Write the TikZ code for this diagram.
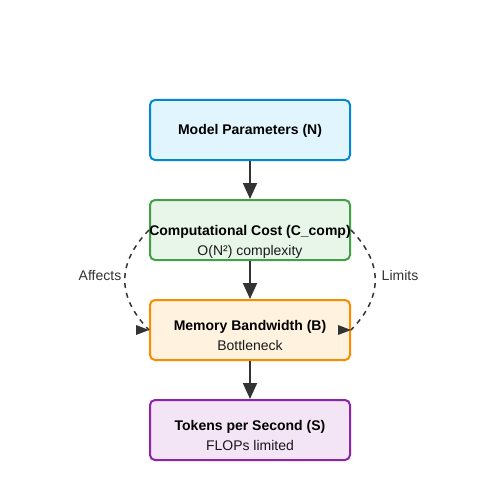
\documentclass[tikz,border=0pt]{standalone}
\usepackage{fontspec}
\setmainfont{Liberation Sans}
\usetikzlibrary{arrows.meta}
\definecolor{bluefill}{HTML}{E1F5FE}
\definecolor{bluedraw}{HTML}{0288D1}
\definecolor{greenfill}{HTML}{E8F5E9}
\definecolor{greendraw}{HTML}{43A047}
\definecolor{orangefill}{HTML}{FFF3E0}
\definecolor{orangedraw}{HTML}{FB8C00}
\definecolor{purplefill}{HTML}{F3E5F5}
\definecolor{purpledraw}{HTML}{8E24AA}
\definecolor{arrowgray}{HTML}{333333}
\tikzset{
  box/.style={draw, line width=2pt, rounded corners=5pt, minimum width=200pt, minimum height=60pt, inner sep=0pt},
  title/.style={font=\fontsize{14}{16}\selectfont\bfseries, text=black, anchor=base, inner sep=0pt},
  sub/.style={font=\fontsize{14}{16}\selectfont, text=black!90, anchor=base, inner sep=0pt},
  lbl/.style={font=\fontsize{14}{16}\selectfont, text=arrowgray, anchor=base, inner sep=0pt},
  flow/.style={draw=arrowgray, line width=2pt, -{Triangle[length=16pt,width=14pt]}},
  link/.style={draw=arrowgray, line width=1.5pt, dash pattern=on 5pt off 5pt},
  tipmark/.style={fill=arrowgray}
}
\begin{document}
\begin{tikzpicture}[x=1pt,y=-1pt]
\useasboundingbox[fill=white] (0,0) rectangle (500,500);
% boxes
\node[box, fill=bluefill, draw=bluedraw] (P) at (250,130) {};
\node[box, fill=greenfill, draw=greendraw] (C) at (250,230) {};
\node[box, fill=orangefill, draw=orangedraw] (M) at (250,330) {};
\node[box, fill=purplefill, draw=purpledraw] (S) at (250,430) {};
% main arrows
\draw[flow] (P.south) -- (C.north);
\draw[flow] (C.south) -- (M.north);
\draw[flow] (M.south) -- (S.north);
% dashed curves
\draw[link] (C.west) .. controls (116.7,263.3) and (116.7,296.7) .. (M.west);
\draw[link] (C.east) .. controls (383.3,263.3) and (383.3,296.7) .. (M.east);
\fill[tipmark] (M.west) -- ++(-13,-5) -- ++(0,10) -- cycle;
\fill[tipmark] (M.east) -- ++(-13,-5) -- ++(0,10) -- cycle;
% texts
\node[title] (Pt) at (250,135) {Model Parameters (N)};
\node[title] (Ct) at (250,235) {Computational Cost (C\_comp)};
\node[sub] (Cs) at (250,255) {O(N²) complexity};
\node[title] (Mt) at (250,330) {Memory Bandwidth (B)};
\node[sub] (Ms) at (250,350) {Bottleneck};
\node[title] (St) at (250,430) {Tokens per Second (S)};
\node[sub] (Ss) at (250,450) {FLOPs limited};
\node[lbl] (La) at (100,280) {Affects};
\node[lbl] (Ll) at (400,280) {Limits};
\end{tikzpicture}
\end{document}
